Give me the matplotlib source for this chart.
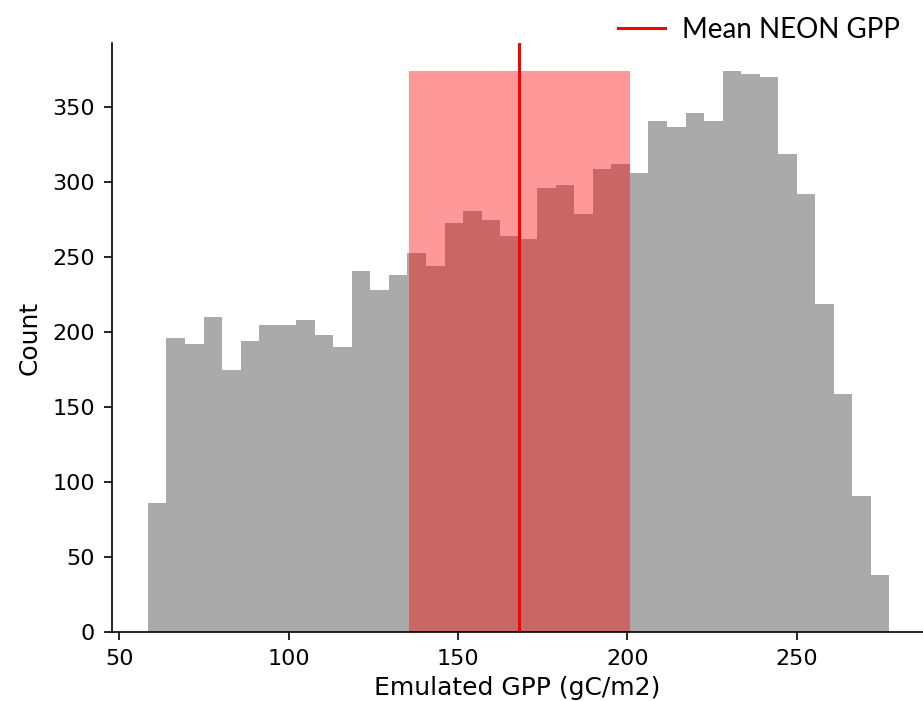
import matplotlib.pyplot as plt
import numpy as np

# histogram of emulated GPP, 40 equal bins
bin_start = 58.4
bin_end = 277.4
counts = [86, 196, 192, 210, 175, 194, 205, 205, 208, 198,
          190, 241, 228, 238, 253, 244, 273, 281, 275, 264,
          262, 296, 298, 279, 309, 312, 306, 341, 337, 346,
          341, 374, 372, 370, 319, 292, 219, 159, 91, 38]

neon_mean = 167.9
neon_low = 135.6
neon_high = 200.9


def main():
    edges = np.linspace(bin_start, bin_end, len(counts) + 1)

    fig = plt.figure(figsize=(9.23, 7.01), dpi=100)
    ax = fig.add_axes([111.7 / 923, 68.7 / 701, (923 - 111.7) / 923, (658 - 68.7) / 701])

    ax.stairs(counts, edges, fill=True, color='#aaaaaa', linewidth=0)
    ax.fill_betweenx([0, max(counts)], neon_low, neon_high, color='red', alpha=0.4,
                     linewidth=0)
    line = ax.axvline(neon_mean, color='red', linewidth=2.2)

    ax.set_xlim(47.7, 287.3)
    ax.set_ylim(0, 392.9)
    ax.set_xticks([50, 100, 150, 200, 250])
    ax.set_yticks(np.arange(0, 351, 50))
    ax.tick_params(labelsize=16, length=6, width=1.2, pad=6)
    ax.set_xlabel('Emulated GPP (gC/m2)', fontsize=18, labelpad=5)
    ax.set_ylabel('Count', fontsize=18, labelpad=8)
    for side in ['top', 'right']:
        ax.spines[side].set_visible(False)
    for side in ['left', 'bottom']:
        ax.spines[side].set_linewidth(1.2)

    fig.legend([line], ['Mean NEON GPP'], loc='upper right', bbox_to_anchor=(1.002, 1.012),
               frameon=False, prop={'family': 'Lato', 'size': 20},
               handlelength=1.7, handletextpad=0.6)

    fig.savefig('out.png', dpi=100)


if __name__ == '__main__':
    main()
